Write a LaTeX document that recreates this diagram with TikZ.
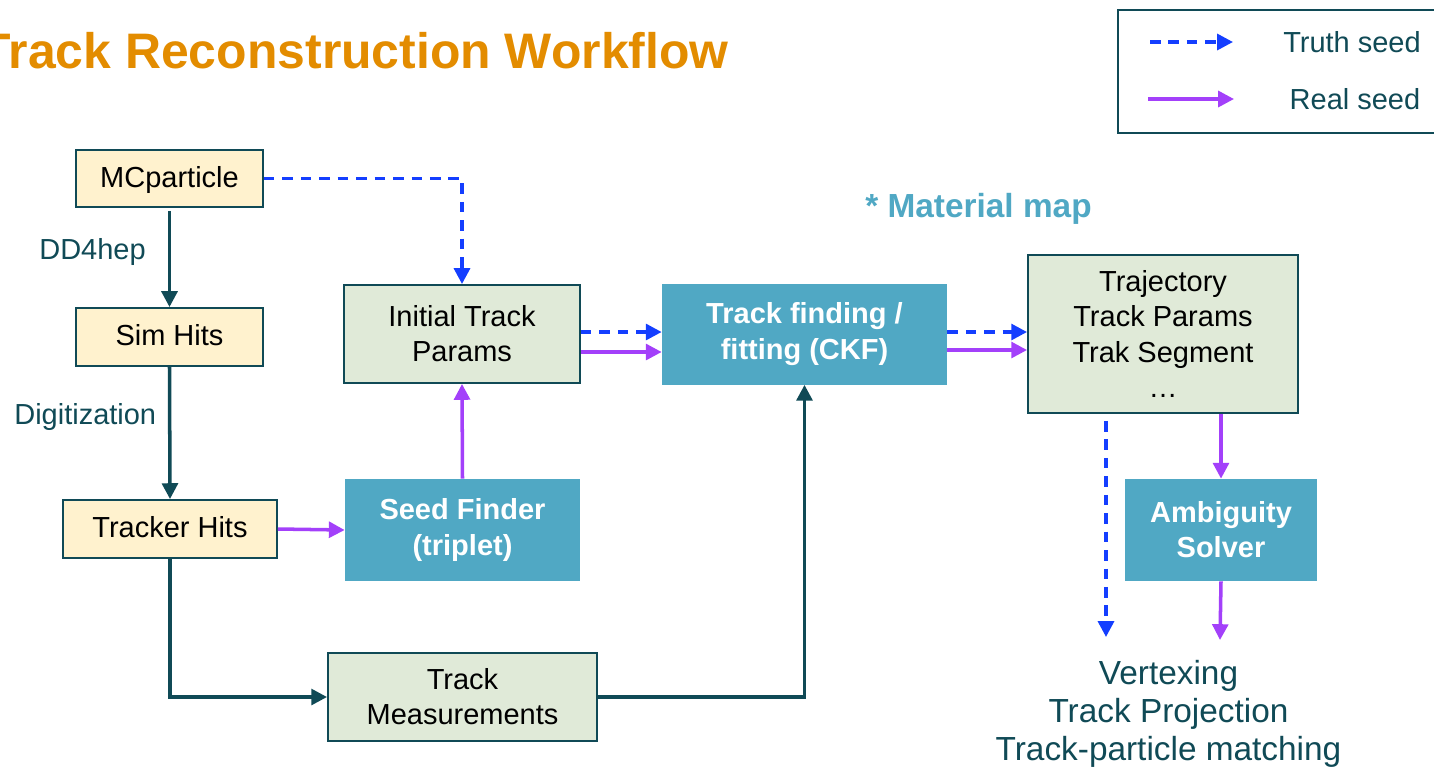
\documentclass[tikz,border=0pt]{standalone}
\usepackage{fontspec}
\setmainfont{Liberation Sans}
\usetikzlibrary{arrows.meta}
\definecolor{titleorange}{RGB}{227,140,0}
\definecolor{darkteal}{RGB}{16,74,86}
\definecolor{hitfill}{RGB}{255,242,206}
\definecolor{prodfill}{RGB}{224,234,216}
\definecolor{algofill}{RGB}{80,168,196}
\definecolor{truthblue}{RGB}{20,62,255}
\definecolor{realpurple}{RGB}{163,64,250}
\newcommand{\boxfont}{\fontsize{16.5}{20}\selectfont}
\tikzstyle{hitbox} = [rectangle, draw=darkteal, line width=1.1pt, fill=hitfill, text centered, inner sep=0pt, font=\boxfont, text height=12pt, text depth=2pt]
\tikzstyle{prodbox} = [rectangle, draw=darkteal, line width=1.1pt, fill=prodfill, align=center, inner sep=0pt, font=\boxfont]
\tikzstyle{algobox} = [rectangle, fill=algofill, text=white, align=center, inner sep=0pt, font=\boxfont\bfseries]
\tikzstyle{flow} = [line width=2pt, draw=darkteal, -{Triangle[length=9pt,width=9pt]}]
\tikzstyle{truth} = [line width=2pt, draw=truthblue, dash pattern=on 6pt off 4.5pt, -{Triangle[length=9pt,width=9pt,fill=truthblue]}]
\tikzstyle{real} = [line width=2pt, draw=realpurple, -{Triangle[length=9pt,width=9pt,fill=realpurple]}]
\tikzstyle{note} = [text=darkteal, inner sep=0pt, font=\boxfont]

\begin{document}
\begin{tikzpicture}[x=0.02cm, y=-0.02cm]
    \useasboundingbox (0,0) rectangle (1434,769);

    % title and legend
    \node (title) [anchor=base east, inner sep=0pt, text=titleorange, font=\fontsize{28.4}{34}\selectfont\bfseries] at (729,68) {Track Reconstruction Workflow};
    \node (legend) [draw=darkteal, line width=1.1pt, minimum width=6.64cm, minimum height=2.46cm] at (1284,71.5) {};
    \coordinate (truthA) at (1150,42);
    \coordinate (truthB) at (1233,42);
    \coordinate (realA) at (1148,99);
    \coordinate (realB) at (1234,99);
    \draw [truth] (truthA) -- (truthB);
    \draw [real] (realA) -- (realB);
    \node (truthtxt) [note] at (1352,42) {Truth seed};
    \node (realtxt) [note] at (1355,99) {Real seed};

    % boxes
    \node (mc) [hitbox, minimum width=3.74cm, minimum height=1.14cm] at (169.5,178.5) {MCparticle};
    \node (sim) [hitbox, minimum width=3.74cm, minimum height=1.16cm] at (169.5,337) {Sim Hits};
    \node (trk) [hitbox, minimum width=4.28cm, minimum height=1.16cm] at (170,529) {Tracker Hits};
    \node (init) [prodbox, minimum width=4.72cm, minimum height=1.96cm] at (462,334) {Initial Track\\Params};
    \node (ckf) [algobox, minimum width=5.7cm, minimum height=2.02cm] at (804.5,334) {Track finding /\\fitting (CKF)};
    \node (traj) [prodbox, minimum width=5.4cm, minimum height=3.16cm] at (1163,334) {Trajectory\\Track Params\\Trak Segment\\…};
    \node (seed) [algobox, minimum width=4.7cm, minimum height=2.04cm] at (462.5,530) {Seed Finder\\(triplet)};
    \node (amb) [algobox, minimum width=3.84cm, minimum height=2.04cm] at (1221,530) {Ambiguity\\Solver};
    \node (meas) [prodbox, minimum width=5.38cm, minimum height=1.76cm] at (462.5,697) {Track\\Measurements};

    % labels
    \node (dd4hep) [note, anchor=base west] at (39,259) {DD4hep};
    \node (digi) [note, anchor=base west] at (14,424) {Digitization};
    \node (matmap) [anchor=base west, inner sep=0pt, text=algofill, font=\fontsize{19}{23}\selectfont\bfseries] at (865,217) {* Material map};
    \node (usage) [note, anchor=base, align=center, font=\fontsize{19}{21.6}\selectfont] at (1168.5,760) {Vertexing\\Track Projection\\Track-particle matching};
    \coordinate (truthend) at (1106,637);
    \coordinate (realend) at (1220,640);

    % connectors
    \draw [flow] ([yshift=-0.06cm]mc.south) -- (sim.north);
    \draw [flow] (sim.south) -- (trk.north);
    \draw [truth] (mc.east) -| (init.north);
    \draw [real] (trk.east) -- (seed.west);
    \draw [real] (seed.north) -- (init.south);
    \draw [truth] ([yshift=0.04cm]init.east) -- ([yshift=0.04cm]ckf.west);
    \draw [real] ([yshift=-0.36cm]init.east) -- ([yshift=-0.36cm]ckf.west);
    \draw [truth] ([yshift=0.04cm]ckf.east) -- ([yshift=0.04cm]traj.west);
    \draw [real] ([yshift=-0.32cm]ckf.east) -- ([yshift=-0.32cm]traj.west);
    \draw [flow] (trk.south) |- (meas.west);
    \draw [flow] (meas.east) -| (ckf.south);
    \draw [truth] ([yshift=-0.14cm]traj.south -| truthend) -- (truthend);
    \draw [real] (traj.south -| amb.north) -- (amb.north);
    \draw [real] (amb.south) -- (realend);

\end{tikzpicture}
\end{document}
